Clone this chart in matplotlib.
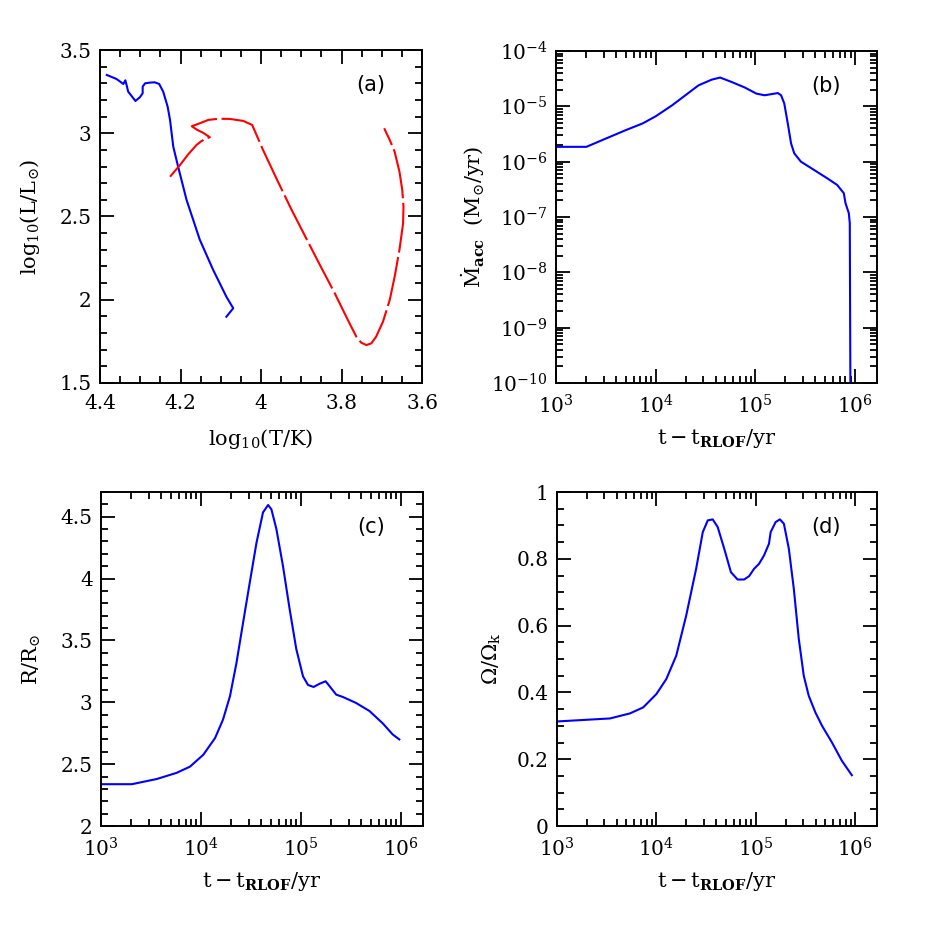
import matplotlib
matplotlib.use("Agg")
import matplotlib.pyplot as plt
import numpy as np
from matplotlib.ticker import MultipleLocator, LogLocator, NullFormatter

plt.rcParams['font.family'] = ['DejaVu Serif']
plt.rcParams['mathtext.fontset'] = 'dejavuserif'
plt.rcParams['font.size'] = 14.5

# ---------------- data ----------------
# (a) HR diagram: accretor (blue), donor (red)
acc_logT = [4.383, 4.359, 4.342, 4.337, 4.334, 4.330, 4.312, 4.301, 4.294, 4.294, 4.288, 4.276,
            4.264, 4.253, 4.243, 4.232, 4.226, 4.218, 4.206, 4.185, 4.152, 4.119, 4.086, 4.069, 4.086]
acc_logL = [3.350, 3.326, 3.296, 3.318, 3.290, 3.250, 3.194, 3.216, 3.240, 3.280, 3.300, 3.304,
            3.306, 3.296, 3.250, 3.160, 3.080, 2.920, 2.800, 2.600, 2.360, 2.180, 2.018, 1.949, 1.898]

don_logT = [4.226, 4.201, 4.181, 4.160, 4.148, 4.135, 4.127, 4.144, 4.159, 4.172, 4.152, 4.131,
            4.106, 4.077, 4.044, 4.022, 3.995, 3.962, 3.924, 3.858, 3.817, 3.780, 3.763, 3.751,
            3.738, 3.726, 3.714, 3.697, 3.680, 3.668, 3.656, 3.647, 3.646, 3.649, 3.656, 3.668,
            3.680, 3.694]
don_logL = [2.739, 2.810, 2.873, 2.930, 2.953, 2.970, 2.976, 3.003, 3.021, 3.042, 3.060, 3.080,
            3.087, 3.086, 3.074, 3.050, 2.900, 2.730, 2.540, 2.229, 2.040, 1.858, 1.778, 1.742,
            1.728, 1.738, 1.778, 1.868, 2.000, 2.138, 2.300, 2.459, 2.559, 2.659, 2.769, 2.889,
            2.959, 3.030]

# (b) accretion rate vs time
mdot_logt = [3.0, 3.305, 3.503, 3.70, 3.868, 4.0, 4.166, 4.298, 4.43, 4.563, 4.646, 4.762, 4.894,
             5.01, 5.093, 5.16, 5.225, 5.258, 5.29, 5.325, 5.358, 5.39, 5.457, 5.589, 5.72, 5.82,
             5.887, 5.904, 5.937, 5.947, 5.954]
mdot_logM = [-5.732, -5.732, -5.58, -5.43, -5.31, -5.18, -4.98, -4.80, -4.62, -4.517, -4.48, -4.56,
             -4.66, -4.77, -4.80, -4.78, -4.76, -4.80, -4.95, -5.31, -5.67, -5.85, -6.00, -6.15,
             -6.30, -6.42, -6.57, -6.75, -6.93, -7.11, -10.5]

# (c) radius vs time
rad_logt = [3.0, 3.309, 3.558, 3.757, 3.89, 4.023, 4.14, 4.22, 4.29, 4.355, 4.42, 4.488, 4.555, 4.62,
            4.671, 4.704, 4.754, 4.82, 4.887, 4.953, 5.02, 5.07, 5.126, 5.186, 5.246, 5.286, 5.352,
            5.419, 5.55, 5.684, 5.817, 5.917, 5.983]
rad_R = [2.338, 2.338, 2.38, 2.43, 2.48, 2.576, 2.71, 2.86, 3.05, 3.32, 3.64, 3.97, 4.29, 4.535,
         4.595, 4.56, 4.40, 4.10, 3.75, 3.43, 3.21, 3.14, 3.124, 3.15, 3.17, 3.13, 3.062, 3.043,
         2.995, 2.93, 2.83, 2.74, 2.70]

# (d) Omega/Omega_k vs time
om_logt = [3.0, 3.533, 3.733, 3.867, 4.0, 4.10, 4.2, 4.3, 4.4, 4.467, 4.517, 4.567, 4.617, 4.683,
           4.75, 4.817, 4.883, 4.933, 4.983, 5.033, 5.083, 5.133, 5.15, 5.2, 5.243, 5.283, 5.333,
           5.383, 5.433, 5.483, 5.533, 5.6, 5.667, 5.767, 5.867, 5.967]
om_val = [0.313, 0.322, 0.337, 0.355, 0.395, 0.44, 0.51, 0.63, 0.77, 0.88, 0.915, 0.918, 0.895,
          0.83, 0.76, 0.738, 0.738, 0.748, 0.77, 0.785, 0.81, 0.845, 0.88, 0.91, 0.918, 0.905,
          0.83, 0.71, 0.56, 0.45, 0.39, 0.34, 0.30, 0.25, 0.195, 0.152]

panel_labels = ['(a)', '(b)', '(c)', '(d)']
xlab_time = r'$\mathrm{t-t}_{\mathbf{RLOF}}\mathrm{/yr}$'

# ---------------- figure ----------------
W = 926.0
fig = plt.figure(figsize=(9.26, 9.26), dpi=100)

def rect(l, r, t, b):
    return [l / W, 1 - b / W, (r - l) / W, (b - t) / W]

axa = fig.add_axes(rect(100, 422, 50, 383))
axb = fig.add_axes(rect(556, 877, 51, 383))
axc = fig.add_axes(rect(101, 423, 492, 826))
axd = fig.add_axes(rect(557, 877, 492, 826))

blue = '#0000ff'
red = '#ff0000'

def style(ax):
    for s in ax.spines.values():
        s.set_linewidth(1.4)
    ax.tick_params(which='both', direction='in', top=True, right=True, width=1.3)
    ax.tick_params(which='major', length=10, labelsize=14.5, pad=6)
    ax.tick_params(axis='x', which='major', pad=8)
    ax.tick_params(which='minor', length=5)

# (a)
axa.plot(acc_logT, acc_logL, color=blue, lw=1.5)
axa.plot(don_logT, don_logL, color=red, lw=1.5, linestyle=(0, (24, 2.2)))
axa.set_xlim(4.4, 3.6)
axa.set_ylim(1.5, 3.5)
axa.xaxis.set_minor_locator(MultipleLocator(0.05))
axa.yaxis.set_minor_locator(MultipleLocator(0.1))
axa.set_xticks([4.4, 4.2, 4.0, 3.8, 3.6])
axa.set_xticklabels(['4.4', '4.2', '4', '3.8', '3.6'])
axa.set_yticks([1.5, 2.0, 2.5, 3.0, 3.5])
axa.set_yticklabels(['1.5', '2', '2.5', '3', '3.5'])
axa.set_xlabel(r'$\mathrm{log_{10}(T/K)}$', fontsize=15, labelpad=10)
axa.set_ylabel(r'$\mathrm{log_{10}(L/L_{\odot})}$', fontsize=15)
axa.yaxis.set_label_coords(-0.18, 0.5)
style(axa)

# (b)
axb.plot(10 ** np.array(mdot_logt), 10 ** np.array(mdot_logM), color=blue, lw=1.5)
axb.set_xscale('log')
axb.set_yscale('log')
axb.set_xlim(1e3, 10 ** 6.22)
axb.set_ylim(1e-10, 1e-4)
axb.yaxis.set_major_locator(LogLocator(base=10, numticks=20))
axb.yaxis.set_minor_locator(LogLocator(base=10, subs=np.arange(2, 10), numticks=50))
axb.yaxis.set_minor_formatter(NullFormatter())
axb.set_ylabel(r'$\dot{\mathrm{M}}_{\mathbf{acc}}\ \ \mathrm{(M_{\odot}/yr)}$', fontsize=15)
axb.yaxis.set_label_coords(-0.215, 0.5)
axb.set_xlabel(xlab_time, fontsize=15, labelpad=7)
style(axb)

# (c)
axc.plot(10 ** np.array(rad_logt), rad_R, color=blue, lw=1.5)
axc.set_xscale('log')
axc.set_xlim(1e3, 10 ** 6.22)
axc.set_ylim(2.0, 4.7)
axc.yaxis.set_minor_locator(MultipleLocator(0.1))
axc.set_yticks([2.0, 2.5, 3.0, 3.5, 4.0, 4.5])
axc.set_yticklabels(['2', '2.5', '3', '3.5', '4', '4.5'])
axc.set_ylabel(r'$\mathrm{R/R_{\odot}}$', fontsize=15)
axc.yaxis.set_label_coords(-0.18, 0.5)
axc.set_xlabel(xlab_time, fontsize=15, labelpad=7)
style(axc)

# (d)
axd.plot(10 ** np.array(om_logt), om_val, color=blue, lw=1.5)
axd.set_xscale('log')
axd.set_xlim(1e3, 10 ** 6.22)
axd.set_ylim(0, 1)
axd.yaxis.set_minor_locator(MultipleLocator(0.05))
axd.set_yticks([0, 0.2, 0.4, 0.6, 0.8, 1.0])
axd.set_yticklabels(['0', '0.2', '0.4', '0.6', '0.8', '1'])
axd.set_ylabel(r'$\Omega/\Omega_{\mathrm{k}}$', fontsize=15)
axd.yaxis.set_label_coords(-0.17, 0.5)
axd.set_xlabel(xlab_time, fontsize=15, labelpad=7)
style(axd)

for ax in (axb, axc, axd):
    ax.xaxis.set_major_locator(LogLocator(base=10, numticks=20))
    ax.xaxis.set_minor_locator(LogLocator(base=10, subs=np.arange(2, 10), numticks=50))
    ax.xaxis.set_minor_formatter(NullFormatter())

for ax, lab in zip((axa, axb, axc, axd), panel_labels):
    ax.text(0.84, 0.895, lab, transform=ax.transAxes, ha='center', va='center',
            fontsize=15, family='DejaVu Sans')

fig.savefig('out.png', dpi=100)
